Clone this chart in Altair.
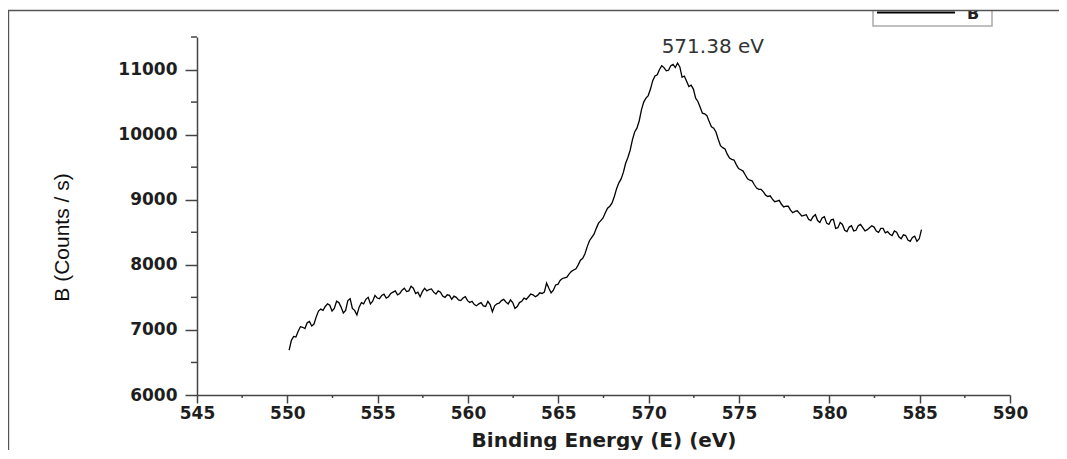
import altair as alt
import pandas as pd

# Binding energy (eV) sampled along the trace
energy = [
    550.1, 550.225, 550.35, 550.475, 550.6, 550.725, 550.85, 550.975, 551.1, 551.225,
    551.35, 551.475, 551.6, 551.725, 551.85, 551.975, 552.1, 552.225, 552.35, 552.475,
    552.6, 552.725, 552.85, 552.975, 553.1, 553.225, 553.35, 553.475, 553.6, 553.725,
    553.85, 553.975, 554.1, 554.225, 554.35, 554.475, 554.6, 554.725, 554.85, 554.975,
    555.1, 555.225, 555.35, 555.475, 555.6, 555.725, 555.85, 555.975, 556.1, 556.225,
    556.35, 556.475, 556.6, 556.725, 556.85, 556.975, 557.1, 557.225, 557.35, 557.475,
    557.6, 557.725, 557.85, 557.975, 558.1, 558.225, 558.35, 558.475, 558.6, 558.725,
    558.85, 558.975, 559.1, 559.225, 559.35, 559.475, 559.6, 559.725, 559.85, 559.975,
    560.1, 560.225, 560.35, 560.475, 560.6, 560.725, 560.85, 560.975, 561.1, 561.225,
    561.35, 561.475, 561.6, 561.725, 561.85, 561.975, 562.1, 562.225, 562.35, 562.475,
    562.6, 562.725, 562.85, 562.975, 563.1, 563.225, 563.35, 563.475, 563.6, 563.725,
    563.85, 563.975, 564.1, 564.225, 564.35, 564.475, 564.6, 564.725, 564.85, 564.975,
    565.1, 565.225, 565.35, 565.475, 565.6, 565.725, 565.85, 565.975, 566.1, 566.225,
    566.35, 566.475, 566.6, 566.725, 566.85, 566.975, 567.1, 567.225, 567.35, 567.475,
    567.6, 567.725, 567.85, 567.975, 568.1, 568.225, 568.35, 568.475, 568.6, 568.725,
    568.85, 568.975, 569.1, 569.225, 569.35, 569.475, 569.6, 569.725, 569.85, 569.975,
    570.1, 570.225, 570.35, 570.475, 570.6, 570.725, 570.85, 570.975, 571.1, 571.225,
    571.35, 571.475, 571.6, 571.725, 571.85, 571.975, 572.1, 572.225, 572.35, 572.475,
    572.6, 572.725, 572.85, 572.975, 573.1, 573.225, 573.35, 573.475, 573.6, 573.725,
    573.85, 573.975, 574.1, 574.225, 574.35, 574.475, 574.6, 574.725, 574.85, 574.975,
    575.1, 575.225, 575.35, 575.475, 575.6, 575.725, 575.85, 575.975, 576.1, 576.225,
    576.35, 576.475, 576.6, 576.725, 576.85, 576.975, 577.1, 577.225, 577.35, 577.475,
    577.6, 577.725, 577.85, 577.975, 578.1, 578.225, 578.35, 578.475, 578.6, 578.725,
    578.85, 578.975, 579.1, 579.225, 579.35, 579.475, 579.6, 579.725, 579.85, 579.975,
    580.1, 580.225, 580.35, 580.475, 580.6, 580.725, 580.85, 580.975, 581.1, 581.225,
    581.35, 581.475, 581.6, 581.725, 581.85, 581.975, 582.1, 582.225, 582.35, 582.475,
    582.6, 582.725, 582.85, 582.975, 583.1, 583.225, 583.35, 583.475, 583.6, 583.725,
    583.85, 583.975, 584.1, 584.225, 584.35, 584.475, 584.6, 584.725, 584.85, 584.975,
    585.1,
]

# Counts per second
counts = [
    6690, 6840, 6900, 6890, 6980, 7050, 7040, 7020, 7110, 7130,
    7060, 7090, 7200, 7290, 7320, 7300, 7360, 7400, 7380, 7290,
    7330, 7440, 7420, 7350, 7260, 7300, 7450, 7480, 7330, 7300,
    7230, 7350, 7420, 7400, 7470, 7500, 7400, 7440, 7530, 7490,
    7480, 7530, 7550, 7490, 7510, 7560, 7580, 7600, 7540, 7560,
    7610, 7640, 7590, 7600, 7670, 7640, 7560, 7580, 7510, 7590,
    7640, 7600, 7620, 7630, 7580, 7550, 7600, 7580, 7520, 7500,
    7540, 7530, 7470, 7520, 7500, 7460, 7450, 7490, 7510, 7450,
    7420, 7440, 7390, 7370, 7400, 7420, 7370, 7360, 7440, 7390,
    7280, 7370, 7400, 7410, 7450, 7470, 7430, 7400, 7460, 7420,
    7330, 7360, 7420, 7440, 7490, 7470, 7510, 7550, 7540, 7510,
    7530, 7570, 7560, 7580, 7720, 7640, 7570, 7610, 7690, 7700,
    7760, 7790, 7800, 7810, 7860, 7900, 7920, 7940, 8000, 8070,
    8100, 8170, 8280, 8370, 8420, 8470, 8560, 8640, 8680, 8720,
    8800, 8870, 8900, 8950, 9050, 9170, 9260, 9320, 9420, 9560,
    9650, 9760, 9920, 10040, 10100, 10210, 10380, 10500, 10560, 10600,
    10700, 10830, 10900, 10920, 11000, 11060, 11030, 10980, 10990, 11060,
    11080, 11030, 11100, 11040, 10880, 10900, 10820, 10740, 10760, 10700,
    10560, 10510, 10420, 10330, 10320, 10290, 10200, 10120, 10100, 10040,
    9930, 9830, 9800, 9780, 9700, 9640, 9620, 9610, 9540, 9480,
    9460, 9440, 9380, 9320, 9300, 9290, 9230, 9180, 9160, 9160,
    9120, 9070, 9050, 9060, 9010, 8970, 8980, 8990, 8930, 8890,
    8900, 8900, 8840, 8800, 8820, 8830, 8790, 8750, 8760, 8770,
    8700, 8680, 8740, 8770, 8680, 8650, 8720, 8740, 8640, 8620,
    8690, 8700, 8560, 8570, 8650, 8620, 8530, 8510, 8580, 8600,
    8520, 8530, 8600, 8620, 8570, 8520, 8540, 8570, 8600, 8580,
    8520, 8500, 8560, 8560, 8490, 8510, 8470, 8450, 8520, 8500,
    8430, 8400, 8460, 8450, 8380, 8360, 8420, 8440, 8360, 8400,
    8540,
]

x_ticks = [545, 550, 555, 560, 565, 570, 575, 580, 585, 590]
x_minor = [547.5, 552.5, 557.5, 562.5, 567.5, 572.5, 577.5, 582.5, 587.5]
y_ticks = [6000, 7000, 8000, 9000, 10000, 11000]
y_minor = [6500, 7500, 8500, 9500, 10500, 11500]

peak_label = ["571.38 eV"]
peak_label_x = [573.55]
peak_label_y = [11345]

legend_label = ["B"]

W, H = 813, 358
PAD_L, PAD_T, PAD_R, PAD_B = 189, 29, 49, 55

df = pd.DataFrame({"energy": energy, "counts": counts})
one = pd.DataFrame({"k": [0]})

xscale = alt.Scale(domain=[545, 590], nice=False, zero=False)
yscale = alt.Scale(domain=[6000, 11500], nice=False, zero=False)

AX = "#444444"
LBL = "#1e1e1e"
X_TITLE = "Binding Energy (E) (eV)"
Y_TITLE = "B (Counts / s)"

x_axis = alt.Axis(
    values=x_ticks, format="d", grid=False,
    labelFont="DejaVu Sans", labelFontWeight="bold", labelFontSize=17, labelColor=LBL,
    labelPadding=2, labelFlush=False, labelOverlap=False,
    tickSize=8, tickColor=AX, tickWidth=1.5, domainColor=AX, domainWidth=1.5,
    titleFont="DejaVu Sans", titleFontWeight="bold",
    titleFontSize=20, titleColor=LBL, titleAnchor="middle",
    titleY=51, titleBaseline="alphabetic",
)
y_axis = alt.Axis(
    values=y_ticks, format="d", grid=False,
    labelFont="DejaVu Sans", labelFontWeight="bold", labelFontSize=17, labelColor=LBL,
    labelPadding=8, labelFlush=False, labelOverlap=False,
    tickSize=12, tickColor=AX, tickWidth=1.5, domainColor=AX, domainWidth=1.5,
    titleFont="Liberation Sans", titleFontWeight="normal",
    titleFontSize=21, titleColor="#111111", titleAngle=270,
    titleX=-135, titleY=200, titleAlign="center", titleBaseline="middle",
)


def X(field):
    return alt.X(field, scale=xscale, axis=x_axis, title=X_TITLE)


def Y(field):
    return alt.Y(field, scale=yscale, axis=y_axis, title=Y_TITLE)


line = alt.Chart(df).mark_line(color="black", strokeWidth=1.3).encode(
    x=X("energy:Q"), y=Y("counts:Q")
)

xminor = alt.Chart(pd.DataFrame({"v": x_minor})).mark_rule(color=AX, strokeWidth=1.5).encode(
    x=X("v:Q"), y=alt.value(H), y2=alt.value(H + 3)
)
yminor = alt.Chart(pd.DataFrame({"v": y_minor})).mark_rule(color=AX, strokeWidth=1.5).encode(
    y=Y("v:Q"), x=alt.value(-6), x2=alt.value(0)
)

annot = alt.Chart(pd.DataFrame({"t": peak_label, "x": peak_label_x, "y": peak_label_y})).mark_text(
    font="DejaVu Sans", fontSize=20, color="#333333", align="center", baseline="middle"
).encode(x=X("x:Q"), y=Y("y:Q"), text="t:N")

# legend box (clipped by the frame at the top)
leg_box = alt.Chart(one).mark_rect(fill="white", stroke="#aaaaaa", strokeWidth=1.5).encode(
    x=alt.value(676), x2=alt.value(795), y=alt.value(-31), y2=alt.value(-11)
)
leg_line = alt.Chart(one).mark_rule(color="black", strokeWidth=2).encode(
    x=alt.value(680), x2=alt.value(758), y=alt.value(-24.5)
)
leg_text = alt.Chart(pd.DataFrame({"t": legend_label})).mark_text(
    font="DejaVu Sans", fontWeight="bold", fontSize=16, color="#222222",
    align="center", baseline="alphabetic"
).encode(x=alt.value(776), y=alt.value(-18), text="t:N")
cover = alt.Chart(one).mark_rect(fill="white").encode(
    x=alt.value(-PAD_L), x2=alt.value(W + PAD_R), y=alt.value(-PAD_T), y2=alt.value(-26)
)
frame_top = alt.Chart(one).mark_rule(color="#555555", strokeWidth=1.5).encode(
    x=alt.value(-PAD_L), x2=alt.value(W + PAD_R), y=alt.value(-26.5)
)
frame_left = alt.Chart(one).mark_rule(color="#555555", strokeWidth=1.2).encode(
    x=alt.value(-PAD_L + 0.6), y=alt.value(-26.5), y2=alt.value(H + PAD_B)
)

chart = alt.layer(
    line, xminor, yminor, annot, leg_box, leg_line, leg_text, cover, frame_top, frame_left
).properties(
    width=W, height=H,
    autosize=alt.AutoSizeParams(type="none"),
    padding={"left": PAD_L, "top": PAD_T, "right": PAD_R, "bottom": PAD_B},
    background="white",
).configure_view(stroke=None)

chart.save("out.html", embed_options={"renderer": "svg", "actions": False})
